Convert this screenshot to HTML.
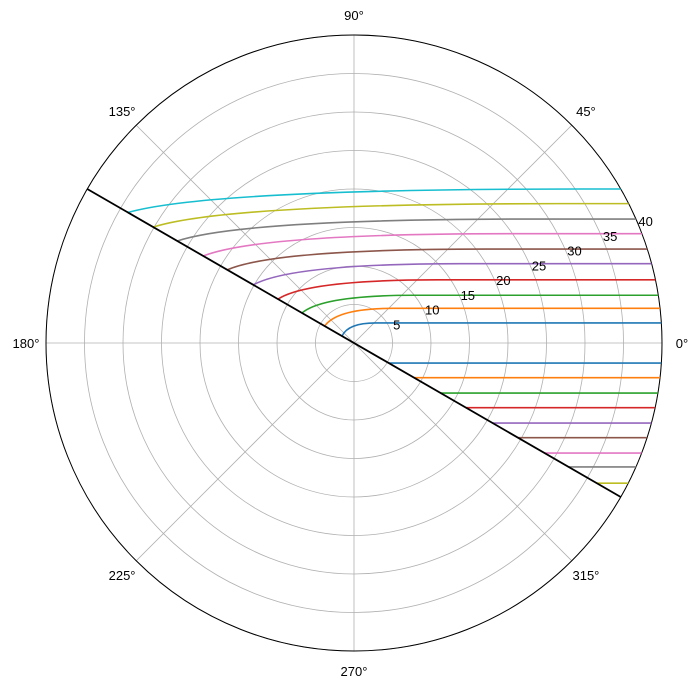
<!DOCTYPE html>
<html><head><meta charset="utf-8"><style>
body{margin:0;background:#fff;}
svg{display:block;font-family:"Liberation Sans",sans-serif;}
</style></head><body>
<svg id="chart" width="699" height="688" viewBox="0 0 699 688" xmlns="http://www.w3.org/2000/svg">
<defs><clipPath id="clip"><circle cx="354" cy="343" r="308"/></clipPath></defs>
<g id="grid"></g>
<g id="series" clip-path="url(#clip)"></g>
<g id="labels"></g>
</svg>
<script>
const rTicks = [5,10,15,20,25,30,35,40];
const thetaTicks = [0,45,90,135,180,225,270,315];
const upperLevels = [2.6,4.5,6.2,8.2,10.3,12.2,14.2,16.1,18.1,20.0];
const upperStartRadius = [1.8,4.4,7.8,11.4,15.1,19.0,22.6,26.5,30.1,33.9];
const lowerLevels = [2.6,4.5,6.5,8.4,10.4,12.3,14.3,16.1,18.2];
const colors = ["#1f77b4","#ff7f0e","#2ca02c","#d62728","#9467bd","#8c564b","#e377c2","#7f7f7f","#bcbd22","#17becf"];
const rMax = 40, cx = 354, cy = 343, R = 308;
const NS = "http://www.w3.org/2000/svg";
function rs(r){return r/rMax*R;}
function px(r,deg){const a=deg*Math.PI/180;return [cx+rs(r)*Math.cos(a), cy-rs(r)*Math.sin(a)];}
function mk(tag,attrs,parent){const e=document.createElementNS(NS,tag);for(const k in attrs)e.setAttribute(k,attrs[k]);parent.appendChild(e);return e;}
const grid=document.getElementById('grid'), ser=document.getElementById('series'), lab=document.getElementById('labels');
rTicks.forEach((t,i)=>{
  const c=mk('circle',{cx:cx,cy:cy,r:rs(t),fill:'none',stroke:'#b0b0b0','stroke-width':0.8},grid);
  
  
  const p=px(t+1,22.5);
  const tx=mk('text',{x:p[0],y:p[1]+4,'font-size':13,'text-anchor':'middle',fill:'#000'},lab);
  tx.textContent=t;
  
  
});
thetaTicks.forEach(t=>{
  const p=px(rMax,t);
  const l=mk('line',{x1:cx,y1:cy,x2:p[0],y2:p[1],stroke:'#b0b0b0','stroke-width':0.8},grid);
  
  
  const q=px(rMax*1.065,t);
  const tx=mk('text',{x:q[0],y:q[1]+5,'font-size':13,'text-anchor':'middle',fill:'#000'},lab);
  tx.textContent=t+'°';
  
  
});
const outer=mk('circle',{cx:cx,cy:cy,r:R,fill:'none',stroke:'#000','stroke-width':1},grid);


// upper curves
upperLevels.forEach((lv,i)=>{
  const s=px(upperStartRadius[i],150);
  const yEnd=cy-rs(lv);
  const L=1.7*rs(upperStartRadius[i])+10;
  const d=`M${s[0]},${s[1]} C${s[0]+L*0.12},${yEnd+(s[1]-yEnd)*0.35} ${s[0]+L*0.45},${yEnd} ${s[0]+L},${yEnd} L${cx+R+10},${yEnd}`;
  const p=mk('path',{d:d,fill:'none',stroke:colors[i],'stroke-width':1.6},ser);
  
  
});
// lower lines
lowerLevels.forEach((lv,i)=>{
  const y=cy+rs(lv);
  const x0=cx+rs(lv)/Math.tan(Math.PI/6);
  const p=mk('path',{d:`M${x0},${y} L${cx+R+10},${y}`,fill:'none',stroke:colors[i],'stroke-width':1.6},ser);
  
  
});
const a=px(rMax,150), b=px(rMax,-30);
const dl=mk('line',{x1:a[0],y1:a[1],x2:b[0],y2:b[1],stroke:'#000','stroke-width':1.8},ser);


</script>
</body></html>
